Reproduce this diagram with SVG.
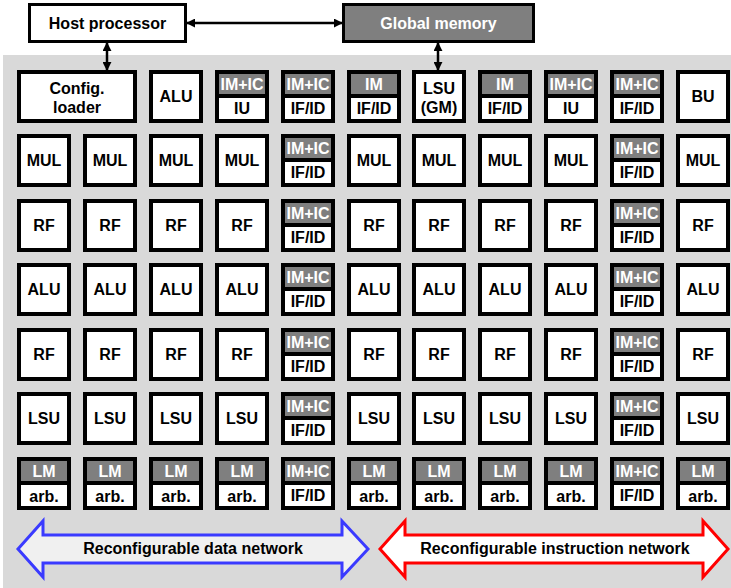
<svg xmlns="http://www.w3.org/2000/svg" xmlns:xlink="http://www.w3.org/1999/xlink" width="731" height="588" viewBox="0 0 731 588">
  <style>
    .bg { fill: #d9d9d9; }
    .box { fill: #ffffff; stroke: #000000; stroke-width: 4; }
    .mem { fill: #7f7f7f; }
    .sep { stroke: #000000; stroke-width: 4; }
    .top { fill: #ffffff; stroke: #000000; stroke-width: 3; }
    .gtop { fill: #7f7f7f; stroke: #000000; stroke-width: 3; }
    text { font-family: "Liberation Sans", Arial, sans-serif; font-weight: bold; font-size: 16px; text-anchor: middle; fill: #000000; }
    .w { fill: #ffffff; }
    .link { stroke: #000000; stroke-width: 2.5; fill: none; marker-start: url(#ah); marker-end: url(#ah); }
    .dnet { fill: #f0f0f0; stroke: #3a3aff; stroke-width: 3; stroke-linejoin: miter; }
    .inet { fill: #ffffff; stroke: #ff0000; stroke-width: 3; stroke-linejoin: miter; }
  </style>
  <defs>
    <marker id="ah" viewBox="0 0 10 10" refX="9" refY="5" markerWidth="9" markerHeight="9" markerUnits="userSpaceOnUse" orient="auto-start-reverse">
      <path d="M0,0 L10,5 L0,10 Z" fill="#000000"/>
    </marker>
    <!-- plain single-function tile -->
    <rect id="tile" class="box" x="2" y="2" width="50" height="49"/>
    <!-- tile with a memory band on top -->
    <g id="split">
      <rect class="box" x="2" y="2" width="50" height="49"/>
      <rect class="mem" x="4" y="4" width="46" height="20"/>
      <line class="sep" x1="2" y1="26" x2="52" y2="26"/>
    </g>
  </defs>

  <rect class="bg" x="3" y="55" width="728" height="533"/>

  <!-- host side -->
  <g id="host-processor">
    <rect class="top" x="29.5" y="4.5" width="156" height="37"/>
    <text x="107.5" y="29">Host processor</text>
  </g>
  <g id="global-memory">
    <rect class="gtop" x="343.5" y="4.5" width="190" height="37"/>
    <text class="w" x="438.5" y="29">Global memory</text>
  </g>

  <!-- row 0 -->
  <g id="config-loader" transform="translate(17,70)">
    <rect class="box" x="2" y="2" width="116" height="49"/>
    <text x="60" y="24">Config.</text>
    <text x="60" y="43">loader</text>
  </g>
  <g id="r0c2" transform="translate(149,70)"><use xlink:href="#tile"/><text x="27" y="32">ALU</text></g>
  <g id="r0c3" transform="translate(215,70)"><use xlink:href="#split"/><text class="w" x="27" y="20">IM+IC</text><text x="27" y="44">IU</text></g>
  <g id="r0c4" transform="translate(281,70)"><use xlink:href="#split"/><text class="w" x="27" y="20">IM+IC</text><text x="27" y="44">IF/ID</text></g>
  <g id="r0c5" transform="translate(347,70)"><use xlink:href="#split"/><text class="w" x="27" y="20">IM</text><text x="27" y="44">IF/ID</text></g>
  <g id="r0c6" transform="translate(412,70)"><use xlink:href="#tile"/><text x="27" y="24">LSU</text><text x="27" y="43">(GM)</text></g>
  <g id="r0c7" transform="translate(478,70)"><use xlink:href="#split"/><text class="w" x="27" y="20">IM</text><text x="27" y="44">IF/ID</text></g>
  <g id="r0c8" transform="translate(544,70)"><use xlink:href="#split"/><text class="w" x="27" y="20">IM+IC</text><text x="27" y="44">IU</text></g>
  <g id="r0c9" transform="translate(610,70)"><use xlink:href="#split"/><text class="w" x="27" y="20">IM+IC</text><text x="27" y="44">IF/ID</text></g>
  <g id="r0c10" transform="translate(676,70)"><use xlink:href="#tile"/><text x="27" y="32">BU</text></g>

  <!-- row 1: multipliers -->
  <g id="r1c0" transform="translate(17,134)"><use xlink:href="#tile"/><text x="27" y="32">MUL</text></g>
  <g id="r1c1" transform="translate(83,134)"><use xlink:href="#tile"/><text x="27" y="32">MUL</text></g>
  <g id="r1c2" transform="translate(149,134)"><use xlink:href="#tile"/><text x="27" y="32">MUL</text></g>
  <g id="r1c3" transform="translate(215,134)"><use xlink:href="#tile"/><text x="27" y="32">MUL</text></g>
  <g id="r1c4" transform="translate(281,134)"><use xlink:href="#split"/><text class="w" x="27" y="20">IM+IC</text><text x="27" y="44">IF/ID</text></g>
  <g id="r1c5" transform="translate(347,134)"><use xlink:href="#tile"/><text x="27" y="32">MUL</text></g>
  <g id="r1c6" transform="translate(412,134)"><use xlink:href="#tile"/><text x="27" y="32">MUL</text></g>
  <g id="r1c7" transform="translate(478,134)"><use xlink:href="#tile"/><text x="27" y="32">MUL</text></g>
  <g id="r1c8" transform="translate(544,134)"><use xlink:href="#tile"/><text x="27" y="32">MUL</text></g>
  <g id="r1c9" transform="translate(610,134)"><use xlink:href="#split"/><text class="w" x="27" y="20">IM+IC</text><text x="27" y="44">IF/ID</text></g>
  <g id="r1c10" transform="translate(676,134)"><use xlink:href="#tile"/><text x="27" y="32">MUL</text></g>

  <!-- row 2: register files -->
  <g id="r2c0" transform="translate(17,199)"><use xlink:href="#tile"/><text x="27" y="32">RF</text></g>
  <g id="r2c1" transform="translate(83,199)"><use xlink:href="#tile"/><text x="27" y="32">RF</text></g>
  <g id="r2c2" transform="translate(149,199)"><use xlink:href="#tile"/><text x="27" y="32">RF</text></g>
  <g id="r2c3" transform="translate(215,199)"><use xlink:href="#tile"/><text x="27" y="32">RF</text></g>
  <g id="r2c4" transform="translate(281,199)"><use xlink:href="#split"/><text class="w" x="27" y="20">IM+IC</text><text x="27" y="44">IF/ID</text></g>
  <g id="r2c5" transform="translate(347,199)"><use xlink:href="#tile"/><text x="27" y="32">RF</text></g>
  <g id="r2c6" transform="translate(412,199)"><use xlink:href="#tile"/><text x="27" y="32">RF</text></g>
  <g id="r2c7" transform="translate(478,199)"><use xlink:href="#tile"/><text x="27" y="32">RF</text></g>
  <g id="r2c8" transform="translate(544,199)"><use xlink:href="#tile"/><text x="27" y="32">RF</text></g>
  <g id="r2c9" transform="translate(610,199)"><use xlink:href="#split"/><text class="w" x="27" y="20">IM+IC</text><text x="27" y="44">IF/ID</text></g>
  <g id="r2c10" transform="translate(676,199)"><use xlink:href="#tile"/><text x="27" y="32">RF</text></g>

  <!-- row 3: ALUs -->
  <g id="r3c0" transform="translate(17,263)"><use xlink:href="#tile"/><text x="27" y="32">ALU</text></g>
  <g id="r3c1" transform="translate(83,263)"><use xlink:href="#tile"/><text x="27" y="32">ALU</text></g>
  <g id="r3c2" transform="translate(149,263)"><use xlink:href="#tile"/><text x="27" y="32">ALU</text></g>
  <g id="r3c3" transform="translate(215,263)"><use xlink:href="#tile"/><text x="27" y="32">ALU</text></g>
  <g id="r3c4" transform="translate(281,263)"><use xlink:href="#split"/><text class="w" x="27" y="20">IM+IC</text><text x="27" y="44">IF/ID</text></g>
  <g id="r3c5" transform="translate(347,263)"><use xlink:href="#tile"/><text x="27" y="32">ALU</text></g>
  <g id="r3c6" transform="translate(412,263)"><use xlink:href="#tile"/><text x="27" y="32">ALU</text></g>
  <g id="r3c7" transform="translate(478,263)"><use xlink:href="#tile"/><text x="27" y="32">ALU</text></g>
  <g id="r3c8" transform="translate(544,263)"><use xlink:href="#tile"/><text x="27" y="32">ALU</text></g>
  <g id="r3c9" transform="translate(610,263)"><use xlink:href="#split"/><text class="w" x="27" y="20">IM+IC</text><text x="27" y="44">IF/ID</text></g>
  <g id="r3c10" transform="translate(676,263)"><use xlink:href="#tile"/><text x="27" y="32">ALU</text></g>

  <!-- row 4: register files -->
  <g id="r4c0" transform="translate(17,328)"><use xlink:href="#tile"/><text x="27" y="32">RF</text></g>
  <g id="r4c1" transform="translate(83,328)"><use xlink:href="#tile"/><text x="27" y="32">RF</text></g>
  <g id="r4c2" transform="translate(149,328)"><use xlink:href="#tile"/><text x="27" y="32">RF</text></g>
  <g id="r4c3" transform="translate(215,328)"><use xlink:href="#tile"/><text x="27" y="32">RF</text></g>
  <g id="r4c4" transform="translate(281,328)"><use xlink:href="#split"/><text class="w" x="27" y="20">IM+IC</text><text x="27" y="44">IF/ID</text></g>
  <g id="r4c5" transform="translate(347,328)"><use xlink:href="#tile"/><text x="27" y="32">RF</text></g>
  <g id="r4c6" transform="translate(412,328)"><use xlink:href="#tile"/><text x="27" y="32">RF</text></g>
  <g id="r4c7" transform="translate(478,328)"><use xlink:href="#tile"/><text x="27" y="32">RF</text></g>
  <g id="r4c8" transform="translate(544,328)"><use xlink:href="#tile"/><text x="27" y="32">RF</text></g>
  <g id="r4c9" transform="translate(610,328)"><use xlink:href="#split"/><text class="w" x="27" y="20">IM+IC</text><text x="27" y="44">IF/ID</text></g>
  <g id="r4c10" transform="translate(676,328)"><use xlink:href="#tile"/><text x="27" y="32">RF</text></g>

  <!-- row 5: load/store units -->
  <g id="r5c0" transform="translate(17,392)"><use xlink:href="#tile"/><text x="27" y="32">LSU</text></g>
  <g id="r5c1" transform="translate(83,392)"><use xlink:href="#tile"/><text x="27" y="32">LSU</text></g>
  <g id="r5c2" transform="translate(149,392)"><use xlink:href="#tile"/><text x="27" y="32">LSU</text></g>
  <g id="r5c3" transform="translate(215,392)"><use xlink:href="#tile"/><text x="27" y="32">LSU</text></g>
  <g id="r5c4" transform="translate(281,392)"><use xlink:href="#split"/><text class="w" x="27" y="20">IM+IC</text><text x="27" y="44">IF/ID</text></g>
  <g id="r5c5" transform="translate(347,392)"><use xlink:href="#tile"/><text x="27" y="32">LSU</text></g>
  <g id="r5c6" transform="translate(412,392)"><use xlink:href="#tile"/><text x="27" y="32">LSU</text></g>
  <g id="r5c7" transform="translate(478,392)"><use xlink:href="#tile"/><text x="27" y="32">LSU</text></g>
  <g id="r5c8" transform="translate(544,392)"><use xlink:href="#tile"/><text x="27" y="32">LSU</text></g>
  <g id="r5c9" transform="translate(610,392)"><use xlink:href="#split"/><text class="w" x="27" y="20">IM+IC</text><text x="27" y="44">IF/ID</text></g>
  <g id="r5c10" transform="translate(676,392)"><use xlink:href="#tile"/><text x="27" y="32">LSU</text></g>

  <!-- row 6: local memories with arbiters -->
  <g id="r6c0" transform="translate(17,457)"><use xlink:href="#split"/><text class="w" x="27" y="20">LM</text><text x="27" y="45">arb.</text></g>
  <g id="r6c1" transform="translate(83,457)"><use xlink:href="#split"/><text class="w" x="27" y="20">LM</text><text x="27" y="45">arb.</text></g>
  <g id="r6c2" transform="translate(149,457)"><use xlink:href="#split"/><text class="w" x="27" y="20">LM</text><text x="27" y="45">arb.</text></g>
  <g id="r6c3" transform="translate(215,457)"><use xlink:href="#split"/><text class="w" x="27" y="20">LM</text><text x="27" y="45">arb.</text></g>
  <g id="r6c4" transform="translate(281,457)"><use xlink:href="#split"/><text class="w" x="27" y="20">IM+IC</text><text x="27" y="44">IF/ID</text></g>
  <g id="r6c5" transform="translate(347,457)"><use xlink:href="#split"/><text class="w" x="27" y="20">LM</text><text x="27" y="45">arb.</text></g>
  <g id="r6c6" transform="translate(412,457)"><use xlink:href="#split"/><text class="w" x="27" y="20">LM</text><text x="27" y="45">arb.</text></g>
  <g id="r6c7" transform="translate(478,457)"><use xlink:href="#split"/><text class="w" x="27" y="20">LM</text><text x="27" y="45">arb.</text></g>
  <g id="r6c8" transform="translate(544,457)"><use xlink:href="#split"/><text class="w" x="27" y="20">LM</text><text x="27" y="45">arb.</text></g>
  <g id="r6c9" transform="translate(610,457)"><use xlink:href="#split"/><text class="w" x="27" y="20">IM+IC</text><text x="27" y="44">IF/ID</text></g>
  <g id="r6c10" transform="translate(676,457)"><use xlink:href="#split"/><text class="w" x="27" y="20">LM</text><text x="27" y="45">arb.</text></g>

  <!-- networks -->
  <g id="data-network">
    <polygon class="dnet" points="18,549 43,521 43,535 342,535 342,521 368,549 342,577 342,563 43,563 43,577"/>
    <text x="193" y="554">Reconfigurable data network</text>
  </g>
  <g id="instruction-network">
    <polygon class="inet" points="380,549 405,521 405,535 703,535 703,521 728,549 703,577 703,563 405,563 405,577"/>
    <text x="555" y="554">Reconfigurable instruction network</text>
  </g>

  <!-- connectors -->
  <g id="connectors">
    <line class="link" x1="187" y1="23" x2="342" y2="23"/>
    <line class="link" x1="107" y1="43" x2="107" y2="70"/>
    <line class="link" x1="438" y1="43" x2="438" y2="70"/>
  </g>
</svg>
